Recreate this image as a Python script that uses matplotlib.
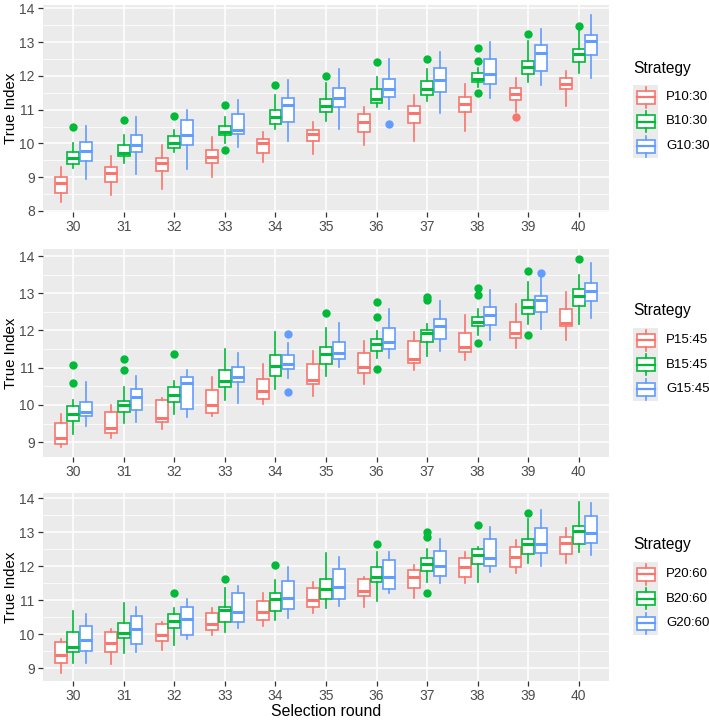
import matplotlib
matplotlib.use('Agg')
import matplotlib.pyplot as plt
from matplotlib.patches import Rectangle

plt.rcParams['font.family'] = ['Liberation Sans', 'DejaVu Sans']

rounds = list(range(30, 41))
colors = ['#F8766D', '#00BA38', '#619CFF']

# rows per round: whisker low, Q1, median, Q3, whisker high
p1_P = [[8.26, 8.53, 8.82, 9.00, 9.29], [8.46, 8.85, 9.13, 9.31, 9.62],
        [8.66, 9.17, 9.41, 9.58, 9.96], [9.02, 9.42, 9.59, 9.81, 10.20],
        [9.44, 9.72, 10.00, 10.13, 10.34], [9.69, 10.08, 10.29, 10.39, 10.64],
        [9.96, 10.35, 10.64, 10.86, 11.08], [10.06, 10.62, 10.91, 11.11, 11.43],
        [10.37, 10.93, 11.18, 11.37, 11.75], [10.93, 11.30, 11.45, 11.65, 11.95],
        [11.11, 11.62, 11.77, 11.95, 12.16]]
p1_B = [[9.26, 9.40, 9.56, 9.75, 10.01], [9.42, 9.62, 9.72, 9.96, 10.25],
        [9.74, 9.86, 10.01, 10.22, 10.40], [10.00, 10.25, 10.34, 10.52, 10.79],
        [10.44, 10.57, 10.79, 10.98, 11.44], [10.67, 10.93, 11.11, 11.33, 11.79],
        [11.08, 11.19, 11.33, 11.60, 11.97], [11.25, 11.44, 11.62, 11.85, 12.19],
        [11.68, 11.83, 11.92, 12.09, 12.24], [11.82, 12.06, 12.25, 12.45, 13.02],
        [12.09, 12.42, 12.66, 12.80, 13.36]]
p1_G = [[8.95, 9.48, 9.78, 10.05, 10.52], [9.11, 9.75, 9.96, 10.25, 10.77],
        [9.25, 9.96, 10.25, 10.69, 10.99], [9.90, 10.27, 10.40, 10.88, 11.28],
        [10.08, 10.65, 11.13, 11.34, 11.89], [10.44, 11.09, 11.35, 11.65, 12.19],
        [11.03, 11.39, 11.62, 11.92, 12.51], [10.91, 11.53, 11.87, 12.24, 12.70],
        [11.35, 11.77, 12.07, 12.50, 12.99], [11.72, 12.16, 12.68, 12.93, 13.39],
        [11.94, 12.61, 13.03, 13.21, 13.80]]

p2_P = [[8.87, 8.96, 9.12, 9.51, 9.76], [9.11, 9.25, 9.39, 9.82, 10.00],
        [9.34, 9.54, 9.65, 10.14, 10.19], [9.69, 9.79, 9.99, 10.41, 10.75],
        [10.03, 10.17, 10.37, 10.70, 11.11], [10.24, 10.57, 10.66, 11.09, 11.44],
        [10.57, 10.85, 11.03, 11.40, 11.72], [10.93, 11.13, 11.24, 11.71, 11.96],
        [11.20, 11.42, 11.55, 11.93, 12.41], [11.53, 11.80, 11.94, 12.24, 12.70],
        [11.75, 12.11, 12.20, 12.57, 13.03]]
p2_B = [[9.22, 9.56, 9.76, 9.96, 10.13], [9.52, 9.82, 10.00, 10.10, 10.48],
        [9.76, 10.09, 10.27, 10.48, 10.64], [10.14, 10.48, 10.63, 10.93, 11.51],
        [10.43, 10.79, 11.04, 11.35, 11.97], [10.79, 11.11, 11.36, 11.55, 12.06],
        [11.26, 11.46, 11.63, 11.76, 11.98], [11.31, 11.69, 11.94, 12.00, 12.18],
        [11.89, 12.12, 12.24, 12.36, 12.57], [12.18, 12.43, 12.63, 12.81, 13.30],
        [12.18, 12.67, 12.92, 13.12, 13.48]]
p2_G = [[9.42, 9.69, 9.81, 10.09, 10.61], [9.54, 9.87, 10.21, 10.42, 10.77],
        [9.67, 9.90, 10.59, 10.75, 10.95], [10.05, 10.61, 10.75, 11.03, 11.39],
        [10.72, 10.97, 11.11, 11.35, 11.66], [11.02, 11.24, 11.40, 11.69, 12.21],
        [11.26, 11.51, 11.69, 12.07, 12.58], [11.44, 11.76, 12.12, 12.32, 12.78],
        [11.75, 12.14, 12.41, 12.63, 13.09], [12.05, 12.49, 12.81, 12.92, 13.48],
        [12.33, 12.79, 13.05, 13.27, 13.81]]

p3_P = [[8.86, 9.16, 9.40, 9.76, 9.87], [9.11, 9.48, 9.73, 10.07, 10.15],
        [9.53, 9.81, 9.99, 10.30, 10.37], [9.99, 10.12, 10.30, 10.63, 10.76],
        [10.24, 10.43, 10.66, 10.97, 11.22], [10.61, 10.79, 11.02, 11.35, 11.54],
        [10.81, 11.13, 11.27, 11.64, 11.67], [11.08, 11.35, 11.67, 11.89, 12.04],
        [11.50, 11.67, 11.97, 12.23, 12.43], [11.79, 11.97, 12.26, 12.58, 12.77],
        [12.10, 12.35, 12.69, 12.87, 13.12]]
p3_B = [[9.16, 9.48, 9.63, 10.05, 10.69], [9.45, 9.89, 10.04, 10.34, 10.91],
        [9.68, 10.19, 10.39, 10.59, 10.78], [10.07, 10.37, 10.71, 10.81, 11.35],
        [10.41, 10.69, 11.05, 11.20, 11.59], [10.78, 11.05, 11.33, 11.64, 12.38],
        [10.98, 11.54, 11.69, 11.97, 12.43], [11.54, 11.86, 12.08, 12.25, 12.51],
        [11.54, 12.08, 12.33, 12.51, 12.58], [12.10, 12.36, 12.65, 12.80, 13.38],
        [12.43, 12.67, 13.04, 13.19, 13.90]]
p3_G = [[9.14, 9.50, 9.83, 10.25, 10.58], [9.48, 9.71, 10.15, 10.53, 10.79],
        [9.85, 9.97, 10.46, 10.81, 11.05], [10.19, 10.37, 10.66, 11.20, 11.42],
        [10.48, 10.73, 11.08, 11.57, 11.97], [10.83, 11.05, 11.40, 11.91, 12.26],
        [11.20, 11.33, 11.69, 12.20, 12.43], [11.51, 11.71, 12.01, 12.46, 12.80],
        [11.82, 12.02, 12.25, 12.80, 13.15], [12.01, 12.40, 12.67, 13.14, 13.66],
        [12.33, 12.70, 12.97, 13.49, 13.88]]

# outliers as (round, value)
p1_out = [[(39, 10.78)],
          [(30, 10.50), (31, 10.70), (32, 10.81), (33, 11.15), (33, 9.81),
           (34, 11.74), (35, 11.99), (36, 12.40), (37, 12.51), (38, 12.83),
           (38, 12.43), (38, 11.49), (39, 13.25), (40, 13.48)],
          [(36, 10.59)]]
p2_out = [[],
          [(30, 11.06), (30, 10.60), (31, 11.24), (31, 10.93), (32, 11.36),
           (35, 12.47), (36, 12.76), (36, 12.36), (36, 10.97), (37, 12.90),
           (37, 12.81), (38, 13.14), (38, 12.96), (38, 11.67), (39, 13.59),
           (39, 11.87), (40, 13.93)],
          [(34, 11.91), (34, 10.34), (39, 13.55)]]
p3_out = [[],
          [(32, 11.22), (33, 11.62), (34, 12.05), (36, 12.65), (37, 13.02),
           (37, 12.87), (37, 11.22), (38, 13.23), (39, 13.56)],
          []]

labels1 = ['P10:30', 'B10:30', 'G10:30']
labels2 = ['P15:45', 'B15:45', 'G15:45']
labels3 = ['P20:60', 'B20:60', 'G20:60']

panels = [
    ([p1_P, p1_B, p1_G], p1_out, labels1, (7.97, 14.1), range(8, 15)),
    ([p2_P, p2_B, p2_G], p2_out, labels2, (8.6, 14.19), range(9, 15)),
    ([p3_P, p3_B, p3_G], p3_out, labels3, (8.62, 14.16), range(9, 15)),
]

W, H = 709, 722
fig = plt.figure(figsize=(W / 100, H / 100), dpi=100)

# panel boxes in pixels: top, bottom
frames = [(5, 212), (249, 457), (493, 681)]
left, right = 43, 609
legend_top = [97, 340, 574]

overlay = fig.add_axes([0, 0, 1, 1], zorder=5)
overlay.set_xlim(0, W)
overlay.set_ylim(H, 0)
overlay.axis('off')
overlay.patch.set_alpha(0)

for (series, outs, labs, ylim, yticks), (top, bot), ly in zip(panels, frames, legend_top):
    ax = fig.add_axes([left / W, 1 - bot / H, (right - left) / W, (bot - top) / H])
    ax.set_facecolor('#EBEBEB')
    for s in ax.spines.values():
        s.set_visible(False)
    minor = [t + 0.5 for t in yticks if ylim[0] < t + 0.5 < ylim[1]]
    minor += [t - 0.5 for t in [min(yticks)] if ylim[0] < t - 0.5]
    ax.set_yticks(minor, minor=True)
    ax.grid(which='major', color='white', linewidth=1.1)
    ax.grid(which='minor', axis='y', color='white', linewidth=0.55)
    ax.set_axisbelow(True)

    for k, (rows, col) in enumerate(zip(series, colors)):
        stats = []
        for i, r in enumerate(rounds):
            lo, q1, med, q3, hi = rows[i]
            fl = [v for rr, v in outs[k] if rr == r]
            stats.append(dict(whislo=lo, q1=q1, med=med, q3=q3, whishi=hi, fliers=fl))
        pos = [r + (k - 1) * 0.25 for r in rounds]
        ax.bxp(stats, positions=pos, widths=0.235, showcaps=False, patch_artist=True,
               manage_ticks=False,
               boxprops=dict(facecolor='white', edgecolor=col, linewidth=1.2),
               whiskerprops=dict(color=col, linewidth=1.2),
               medianprops=dict(color=col, linewidth=2.2, solid_capstyle='butt'),
               flierprops=dict(marker='o', markerfacecolor=col, markeredgecolor=col,
                               markersize=5, linestyle='none'))

    ax.set_xlim(29.4, 40.6)
    ax.set_ylim(*ylim)
    ax.set_xticks(rounds)
    ax.set_xticklabels([str(r) for r in rounds])
    ax.set_yticks(list(yticks))
    ax.tick_params(axis='both', which='major', length=3.5, width=0.9, color='#333333',
                   labelcolor='#4D4D4D', labelsize=10, pad=2.5)
    ax.tick_params(axis='both', which='minor', length=0)

    fig.text(11 / W, 1 - (top + bot) / 2 / H, 'True Index', rotation=90,
             ha='center', va='center', fontsize=10.8, color='black')

    # legend
    overlay.text(633, ly - 29, 'Strategy', ha='left', va='center', fontsize=11.2)
    for j, (lab, col) in enumerate(zip(labs, colors)):
        cy = ly + j * 24.5
        overlay.add_patch(Rectangle((633, cy - 12.25), 25, 24.5, facecolor='#EBEBEB',
                                    edgecolor='none'))
        overlay.add_patch(Rectangle((636.5, cy - 6.5), 18, 13, facecolor='white',
                                    edgecolor=col, linewidth=1.2))
        overlay.plot([645.5, 645.5], [cy - 10.5, cy - 6.5], color=col, linewidth=1.2)
        overlay.plot([645.5, 645.5], [cy + 6.5, cy + 10.5], color=col, linewidth=1.2)
        overlay.plot([636.5, 654.5], [cy, cy], color=col, linewidth=1.6)
        overlay.text(666, cy, lab, ha='left', va='center', fontsize=9.5)

fig.text((left + right) / 2 / W, 1 - 712 / H, 'Selection round', ha='center',
         va='center', fontsize=11.4)

fig.savefig('out.png', dpi=100)
